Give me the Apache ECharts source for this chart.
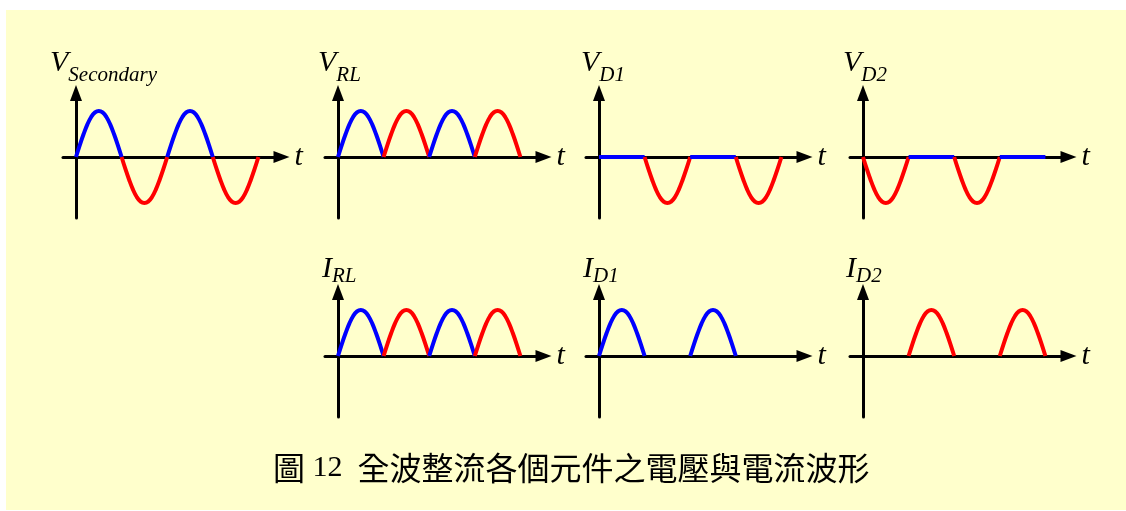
<!DOCTYPE html>
<html>
<head>
<meta charset="utf-8">
<title>全波整流波形</title>
<script src="https://cdn.jsdelivr.net/npm/echarts@6/dist/echarts.min.js"></script>
<style>
  html, body { margin: 0; padding: 0; background: #fff; }
  #bg { position: absolute; left: 6px; top: 10px; width: 1120px; height: 500px; background: #ffffcc; }
  #main { position: absolute; left: 0; top: 0; width: 1126px; height: 511px; }
</style>
</head>
<body>
<div id="bg"></div>
<div id="main"></div>
<script>
// one half period, sampled (t in half periods, value relative to peak)
const archT = [0, 0.083, 0.167, 0.25, 0.333, 0.417, 0.5, 0.583, 0.667, 0.75, 0.833, 0.917, 1]
const archShape = [0, 0.26, 0.5, 0.71, 0.87, 0.97, 1, 0.97, 0.87, 0.71, 0.5, 0.26, 0]

// sign of each of the 4 half periods
const vSecondary = [1, -1, 1, -1]
const vRL = [1, 1, 1, 1]
const vD1 = [0, -1, 0, -1]
const vD2 = [-1, 0, -1, 0]
const iRL = [1, 1, 1, 1]
const iD1 = [1, 0, 1, 0]
const iD2 = [0, 1, 0, 1]

// which path a half period belongs to (null = not drawn)
const vSecondaryPath = ['D1', 'D2', 'D1', 'D2']
const vRLPath = ['D1', 'D2', 'D1', 'D2']
const vD1Path = ['D1', 'D2', 'D1', 'D2']
const vD2Path = ['D2', 'D1', 'D2', 'D1']
const iRLPath = ['D1', 'D2', 'D1', 'D2']
const iD1Path = ['D1', null, 'D1', null]
const iD2Path = [null, 'D2', null, 'D2']

const names = [['V', 'Secondary'], ['V', 'RL'], ['V', 'D1'], ['V', 'D2'], ['I', 'RL'], ['I', 'D1'], ['I', 'D2']]
const values = [vSecondary, vRL, vD1, vD2, iRL, iD1, iD2]
const paths = [vSecondaryPath, vRLPath, vD1Path, vD2Path, iRLPath, iD1Path, iD2Path]
const captionHead = '圖'
const captionNum = '12'
const captionText = '全波整流各個元件之電壓與電流波形'

// layout: axis origin, label box left / top and subscript padding in pixels
const layout = [
  { ox: 76, oy: 157, lx: 50, ty: 56, pad: 7.5 },
  { ox: 338, oy: 157, lx: 318, ty: 56, pad: 7.5 },
  { ox: 599, oy: 157, lx: 581, ty: 56, pad: 7.5 },
  { ox: 863, oy: 157, lx: 843, ty: 56, pad: 7.5 },
  { ox: 338, oy: 356, lx: 322, ty: 257, pad: 3 },
  { ox: 599, oy: 356, lx: 583, ty: 257, pad: 3 },
  { ox: 863, oy: 356, lx: 846, ty: 257, pad: 3 }
]
const pathColor = { D1: '#0000ff', D2: '#ff0000' }
const SERIF = "'Liberation Serif', 'Times New Roman', serif"

const HALF = 45.6 // px per half period
const AMP = 46 // px per unit
const LEFT_EXT = 13
const RIGHT_EXT = 205.5
const TOP_EXT = 64
const BOT_EXT = 61

const chart = echarts.init(document.getElementById('main'))

const grid = [], xAxis = [], yAxis = [], series = [], title = []
layout.forEach((p, i) => {
  grid.push({
    left: p.ox - LEFT_EXT,
    top: p.oy - TOP_EXT,
    width: LEFT_EXT + RIGHT_EXT,
    height: TOP_EXT + BOT_EXT
  })
  xAxis.push({
    gridIndex: i,
    type: 'value',
    min: -LEFT_EXT / HALF,
    max: RIGHT_EXT / HALF,
    axisLine: {
      onZero: true,
      symbol: ['none', 'triangle'],
      symbolSize: [12, 16],
      lineStyle: { color: '#000', width: 3 }
    },
    axisTick: { show: false },
    axisLabel: { show: false },
    splitLine: { show: false },
    name: 't',
    nameLocation: 'end',
    nameGap: 13,
    nameTextStyle: {
      fontFamily: SERIF,
      fontStyle: 'italic',
      fontWeight: 'normal',
      fontSize: 30,
      color: '#000',
      align: 'left',
      verticalAlign: 'middle'
    }
  })
  yAxis.push({
    gridIndex: i,
    type: 'value',
    min: -BOT_EXT / AMP,
    max: TOP_EXT / AMP,
    axisLine: {
      onZero: true,
      symbol: ['none', 'triangle'],
      symbolSize: [12, 16],
      lineStyle: { color: '#000', width: 3 }
    },
    axisTick: { show: false },
    axisLabel: { show: false },
    splitLine: { show: false }
  })
  // padding under the main letter pushes the subscript down
  title.push({
    text: '{m|' + names[i][0] + '}{s|' + names[i][1] + '}',
    left: p.lx,
    top: p.ty,
    padding: 0,
    textStyle: {
      fontWeight: 'normal',
      rich: {
        m: {
          fontFamily: SERIF, fontStyle: 'italic', fontWeight: 'normal', fontSize: 30,
          color: '#000', lineHeight: 30, verticalAlign: 'bottom', padding: [0, 0, p.pad, 0]
        },
        s: {
          fontFamily: SERIF, fontStyle: 'italic', fontWeight: 'normal', fontSize: 21,
          color: '#000', lineHeight: 21, verticalAlign: 'bottom'
        }
      }
    }
  })
  values[i].forEach((sign, h) => {
    const path = paths[i][h]
    if (!path) return
    series.push({
      type: 'line',
      xAxisIndex: i,
      yAxisIndex: i,
      data: archT.map((t, k) => [h + t, sign * archShape[k]]),
      smooth: 0.4,
      showSymbol: false,
      silent: true,
      animation: false,
      lineStyle: { color: pathColor[path], width: 4 },
      z: 3
    })
  })
})

title.push({
  text: '{c|' + captionHead + '}{n| ' + captionNum + '  }{c|' + captionText + '}',
  left: 273,
  top: 451,
  padding: 0,
  textStyle: {
    fontWeight: 'normal',
    rich: {
      c: { fontFamily: 'Noto Sans CJK TC', fontWeight: 'normal', fontSize: 32, color: '#000', lineHeight: 34 },
      n: { fontFamily: SERIF, fontWeight: 'normal', fontSize: 30, color: '#000', lineHeight: 34 }
    }
  }
})

chart.setOption({
  backgroundColor: 'transparent',
  animation: false,
  title: title,
  grid: grid,
  xAxis: xAxis,
  yAxis: yAxis,
  series: series
})
</script>
</body>
</html>
